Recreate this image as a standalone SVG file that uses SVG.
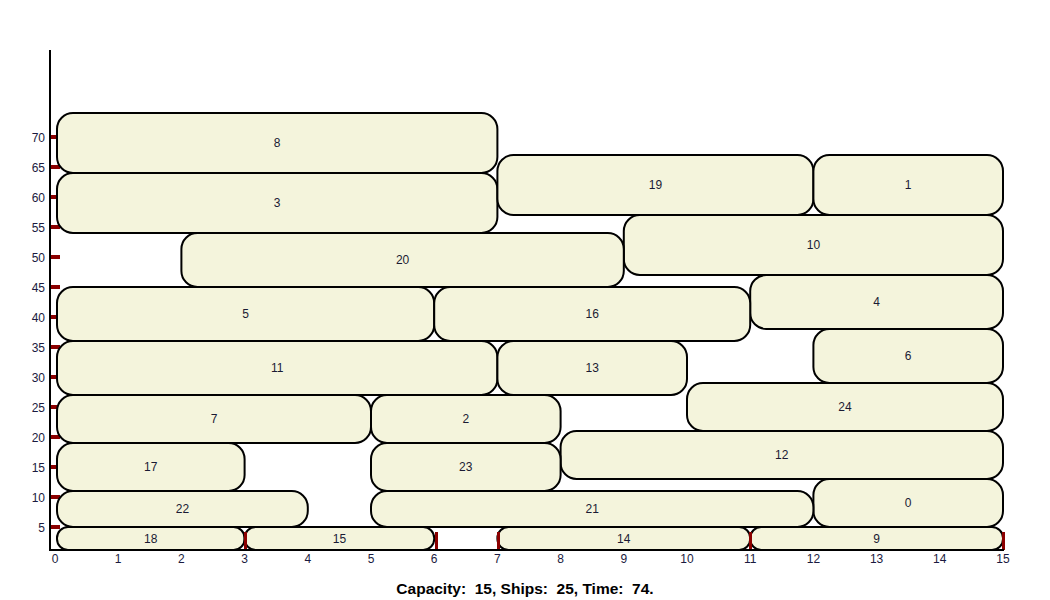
<svg xmlns="http://www.w3.org/2000/svg" width="1050" height="600" viewBox="0 0 1050 600">
<style>
.bx{fill:#F4F4DC;stroke:#000;stroke-width:2}
.lb{font-family:"Liberation Sans",Arial,sans-serif;font-size:12px;fill:#1a1a33;text-anchor:middle;dominant-baseline:central}
.yl{font-family:"Liberation Sans",Arial,sans-serif;font-size:12px;fill:#1a1a40;text-anchor:end;dominant-baseline:central}
.xl{font-family:"Liberation Sans",Arial,sans-serif;font-size:12px;fill:#1a1a40;text-anchor:middle;dominant-baseline:central}
.tk{fill:#8B0000}
.ax{stroke:#000;stroke-width:2;fill:none}
.cap{font-family:"Liberation Sans",Arial,sans-serif;font-size:15.5px;font-weight:bold;fill:#000;text-anchor:middle}
</style>
<rect width="1050" height="600" fill="#fff"/>
<g id="yticks">
<rect class="tk" x="50" y="525" width="10" height="4"/>
<rect class="tk" x="50" y="495" width="10" height="4"/>
<rect class="tk" x="50" y="465" width="10" height="4"/>
<rect class="tk" x="50" y="435" width="10" height="4"/>
<rect class="tk" x="50" y="405" width="10" height="4"/>
<rect class="tk" x="50" y="375" width="10" height="4"/>
<rect class="tk" x="50" y="345" width="10" height="4"/>
<rect class="tk" x="50" y="315" width="10" height="4"/>
<rect class="tk" x="50" y="285" width="10" height="4"/>
<rect class="tk" x="50" y="255" width="10" height="4"/>
<rect class="tk" x="50" y="225" width="10" height="4"/>
<rect class="tk" x="50" y="195" width="10" height="4"/>
<rect class="tk" x="50" y="165" width="10" height="4"/>
<rect class="tk" x="50" y="135" width="10" height="4"/>
</g>
<g id="node-8"><rect class="bx" x="57" y="113" width="440.4" height="60" rx="16"/><text class="lb" x="277.2" y="143">8</text></g>
<g id="node-3"><rect class="bx" x="57" y="173" width="440.4" height="60" rx="16"/><text class="lb" x="277.2" y="203">3</text></g>
<g id="node-19"><rect class="bx" x="497.4" y="155" width="316" height="60" rx="16"/><text class="lb" x="655.4" y="185">19</text></g>
<g id="node-1"><rect class="bx" x="813.4" y="155" width="189.6" height="60" rx="16"/><text class="lb" x="908.2" y="185">1</text></g>
<g id="node-10"><rect class="bx" x="623.8" y="215" width="379.2" height="60" rx="16"/><text class="lb" x="813.4" y="245">10</text></g>
<g id="node-20"><rect class="bx" x="181.4" y="233" width="442.4" height="54" rx="16"/><text class="lb" x="402.6" y="260">20</text></g>
<g id="node-4"><rect class="bx" x="750.2" y="275" width="252.8" height="54" rx="16"/><text class="lb" x="876.6" y="302">4</text></g>
<g id="node-5"><rect class="bx" x="57" y="287" width="377.2" height="54" rx="16"/><text class="lb" x="245.6" y="314">5</text></g>
<g id="node-16"><rect class="bx" x="434.2" y="287" width="316" height="54" rx="16"/><text class="lb" x="592.2" y="314">16</text></g>
<g id="node-6"><rect class="bx" x="813.4" y="329" width="189.6" height="54" rx="16"/><text class="lb" x="908.2" y="356">6</text></g>
<g id="node-11"><rect class="bx" x="57" y="341" width="440.4" height="54" rx="16"/><text class="lb" x="277.2" y="368">11</text></g>
<g id="node-13"><rect class="bx" x="497.4" y="341" width="189.6" height="54" rx="16"/><text class="lb" x="592.2" y="368">13</text></g>
<g id="node-24"><rect class="bx" x="687" y="383" width="316" height="48" rx="16"/><text class="lb" x="845" y="407">24</text></g>
<g id="node-7"><rect class="bx" x="57" y="395" width="314" height="48" rx="16"/><text class="lb" x="214" y="419">7</text></g>
<g id="node-2"><rect class="bx" x="371" y="395" width="189.6" height="48" rx="16"/><text class="lb" x="465.8" y="419">2</text></g>
<g id="node-12"><rect class="bx" x="560.6" y="431" width="442.4" height="48" rx="16"/><text class="lb" x="781.8" y="455">12</text></g>
<g id="node-17"><rect class="bx" x="57" y="443" width="187.6" height="48" rx="16"/><text class="lb" x="150.8" y="467">17</text></g>
<g id="node-23"><rect class="bx" x="371" y="443" width="189.6" height="48" rx="16"/><text class="lb" x="465.8" y="467">23</text></g>
<g id="node-0"><rect class="bx" x="813.4" y="479" width="189.6" height="48" rx="16"/><text class="lb" x="908.2" y="503">0</text></g>
<g id="node-22"><rect class="bx" x="57" y="491" width="250.8" height="36" rx="16"/><text class="lb" x="182.4" y="509">22</text></g>
<g id="node-21"><rect class="bx" x="371" y="491" width="442.4" height="36" rx="16"/><text class="lb" x="592.2" y="509">21</text></g>
<g id="node-18"><rect class="bx" x="57" y="527" width="187.6" height="23" rx="11"/><text class="lb" x="150.8" y="538.5">18</text></g>
<g id="node-15"><rect class="bx" x="244.6" y="527" width="189.6" height="23" rx="11"/><text class="lb" x="339.4" y="538.5">15</text></g>
<g id="node-14"><rect class="bx" x="497.4" y="527" width="252.8" height="23" rx="11"/><text class="lb" x="623.8" y="538.5">14</text></g>
<g id="node-9"><rect class="bx" x="750.2" y="527" width="252.8" height="23" rx="11"/><text class="lb" x="876.6" y="538.5">9</text></g>
<g id="xticks">
<rect class="tk" x="244" y="532" width="3" height="18"/>
<rect class="tk" x="435" y="532" width="3" height="18"/>
<rect class="tk" x="497" y="532" width="3" height="18"/>
<rect class="tk" x="749" y="532" width="3" height="18"/>
<rect class="tk" x="1002" y="532" width="3" height="18"/>
</g>
<g id="axes">
<line class="ax" x1="50" y1="50" x2="50" y2="551"/>
<line class="ax" x1="49" y1="550" x2="1004" y2="550"/>
</g>
<g id="ylabels">
<text class="yl" x="45" y="528">5</text>
<text class="yl" x="45" y="498">10</text>
<text class="yl" x="45" y="468">15</text>
<text class="yl" x="45" y="438">20</text>
<text class="yl" x="45" y="408">25</text>
<text class="yl" x="45" y="378">30</text>
<text class="yl" x="45" y="348">35</text>
<text class="yl" x="45" y="318">40</text>
<text class="yl" x="45" y="288">45</text>
<text class="yl" x="45" y="258">50</text>
<text class="yl" x="45" y="228">55</text>
<text class="yl" x="45" y="198">60</text>
<text class="yl" x="45" y="168">65</text>
<text class="yl" x="45" y="138">70</text>
</g>
<g id="xlabels">
<text class="xl" x="55" y="559">0</text>
<text class="xl" x="118.2" y="559">1</text>
<text class="xl" x="181.4" y="559">2</text>
<text class="xl" x="244.6" y="559">3</text>
<text class="xl" x="307.8" y="559">4</text>
<text class="xl" x="371" y="559">5</text>
<text class="xl" x="434.2" y="559">6</text>
<text class="xl" x="497.4" y="559">7</text>
<text class="xl" x="560.6" y="559">8</text>
<text class="xl" x="623.8" y="559">9</text>
<text class="xl" x="687" y="559">10</text>
<text class="xl" x="750.2" y="559">11</text>
<text class="xl" x="813.4" y="559">12</text>
<text class="xl" x="876.6" y="559">13</text>
<text class="xl" x="939.8" y="559">14</text>
<text class="xl" x="1003" y="559">15</text>
</g>
<text class="cap" x="525" y="594" xml:space="preserve">Capacity:  15, Ships:  25, Time:  74.</text>
</svg>
